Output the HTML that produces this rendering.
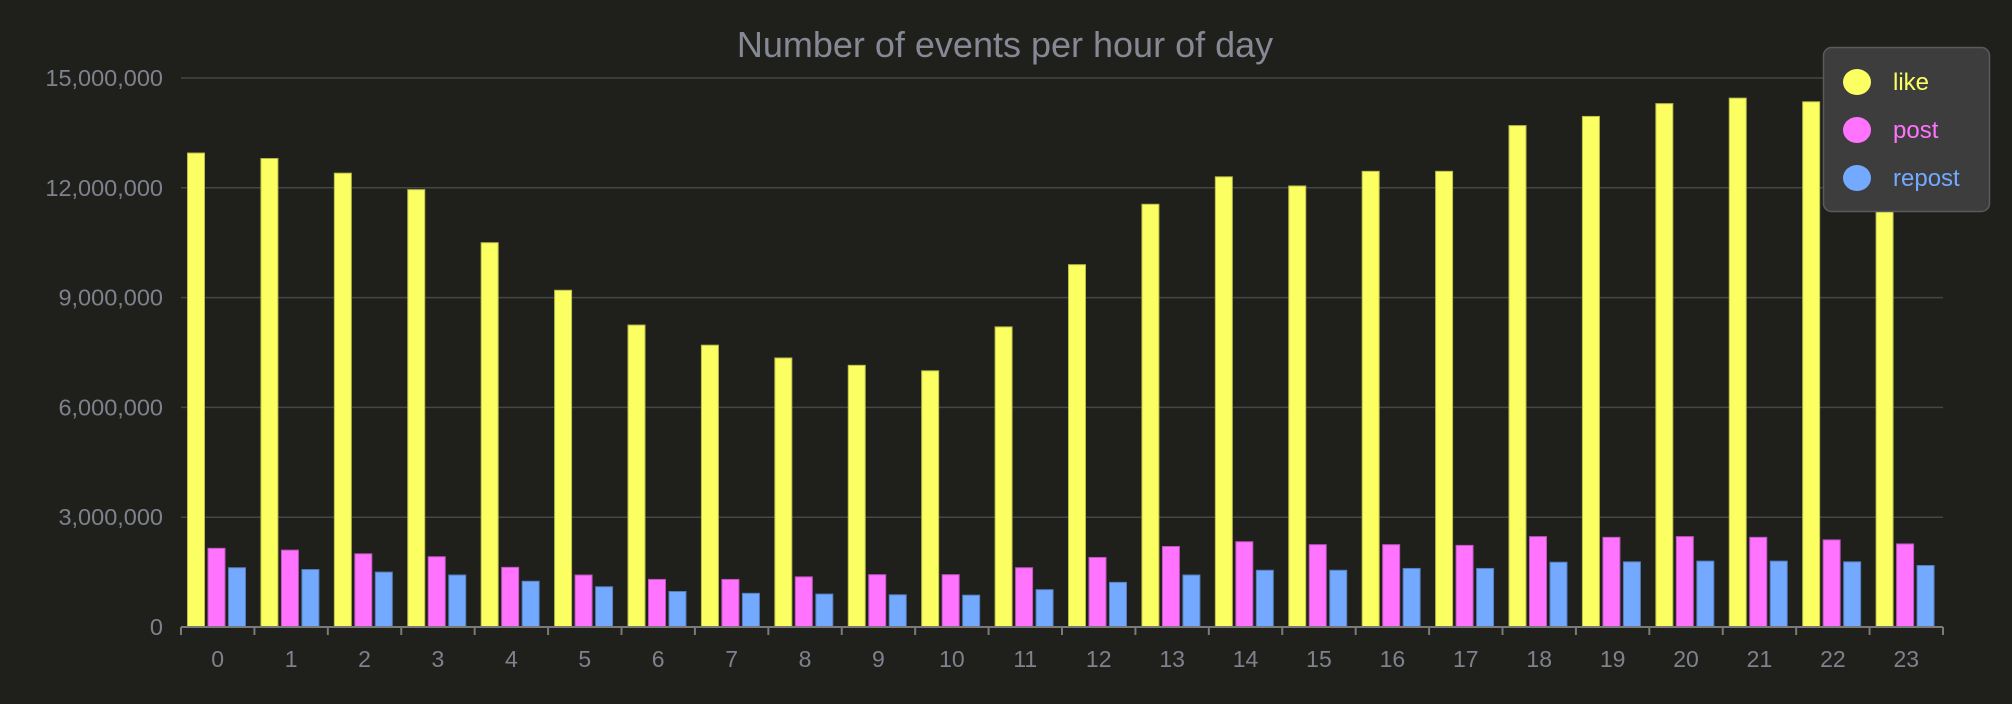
<!DOCTYPE html>
<html><head><meta charset="utf-8"><style>
html,body{margin:0;padding:0;background:#1f1f1c;}
svg{display:block;font-family:"Liberation Sans",Arial,sans-serif;}
</style></head><body>
<svg id="c" width="2012" height="704" viewBox="0 0 2012 704" xmlns="http://www.w3.org/2000/svg">
<rect width="2012" height="704" fill="#1f1f1c"/>
<text x="1005" y="57" text-anchor="middle" font-size="36" fill="#868993">Number of events per hour of day</text>
<g id="grid"></g>
<g id="bars"></g>
<g id="axis"></g>
<g>
<rect x="1823.5" y="47.5" width="166" height="164" rx="8" fill="#3d3d3d" stroke="#5a5a5a" stroke-width="1.5"/>
<ellipse cx="1857" cy="82" rx="14" ry="13" fill="#fbff62"/>
<ellipse cx="1857" cy="130" rx="14" ry="13" fill="#ff73ff"/>
<ellipse cx="1857" cy="178" rx="14" ry="13" fill="#73a9ff"/>
<text x="1893" y="90" font-size="24" fill="#fbff62">like</text>
<text x="1893" y="138" font-size="24" fill="#ff73ff">post</text>
<text x="1893" y="186" font-size="24" fill="#73a9ff">repost</text>
</g>
</svg>
<script>
var like=[12.95,12.8,12.4,11.95,10.5,9.2,8.25,7.7,7.35,7.15,7.0,8.2,9.9,11.55,12.3,12.05,12.45,12.45,13.7,13.95,14.3,14.45,14.35,13.6];
var post=[2.15,2.1,2.0,1.92,1.63,1.42,1.3,1.3,1.37,1.43,1.43,1.62,1.9,2.2,2.33,2.25,2.25,2.23,2.47,2.45,2.47,2.45,2.38,2.27];
var rep=[1.62,1.57,1.5,1.42,1.25,1.1,0.97,0.92,0.9,0.88,0.87,1.02,1.22,1.42,1.55,1.55,1.6,1.6,1.77,1.78,1.8,1.8,1.78,1.68];
var NS="http://www.w3.org/2000/svg";
function el(p,t,a,txt){var e=document.createElementNS(NS,t);for(var k in a)e.setAttribute(k,a[k]);if(txt!=null)e.textContent=txt;document.getElementById(p).appendChild(e);}
var x0=181,x1=1943,y0=627,ppm=36.6,cw=(x1-x0)/24;
var labs=["0","3,000,000","6,000,000","9,000,000","12,000,000","15,000,000"];
for(var i=0;i<6;i++){var y=y0-i*3*ppm;
 if(i>0)el("grid","line",{x1:x0,x2:x1,y1:y,y2:y,stroke:"#464646","stroke-width":1.5});
 el("grid","text",{x:163,y:y+8,"text-anchor":"end","font-size":23.5,fill:"#7f828c"},labs[i]);}
var cols=[["#fbff62","#b9bc48"],["#ff73ff","#bb55bb"],["#73a9ff","#557dbb"]];
var data=[like,post,rep];
for(var c=0;c<24;c++){var cx=x0+c*cw;
 for(var s=0;s<3;s++){var h=data[s][c]*ppm;
  el("bars","rect",{x:cx+6.5+s*20.5,y:y0-h,width:17,height:h,fill:cols[s][0],stroke:cols[s][1],"stroke-width":1});}
 el("axis","text",{x:cx+cw/2,y:667,"text-anchor":"middle","font-size":23,fill:"#7f828c"},String(c));}
el("axis","line",{x1:x0,x2:x1,y1:y0,y2:y0,stroke:"#7a7a7a","stroke-width":2});
for(var c=0;c<=24;c++){var tx=x0+c*cw;el("axis","line",{x1:tx,x2:tx,y1:y0,y2:y0+8,stroke:"#7a7a7a","stroke-width":2});}
</script>
</body></html>
